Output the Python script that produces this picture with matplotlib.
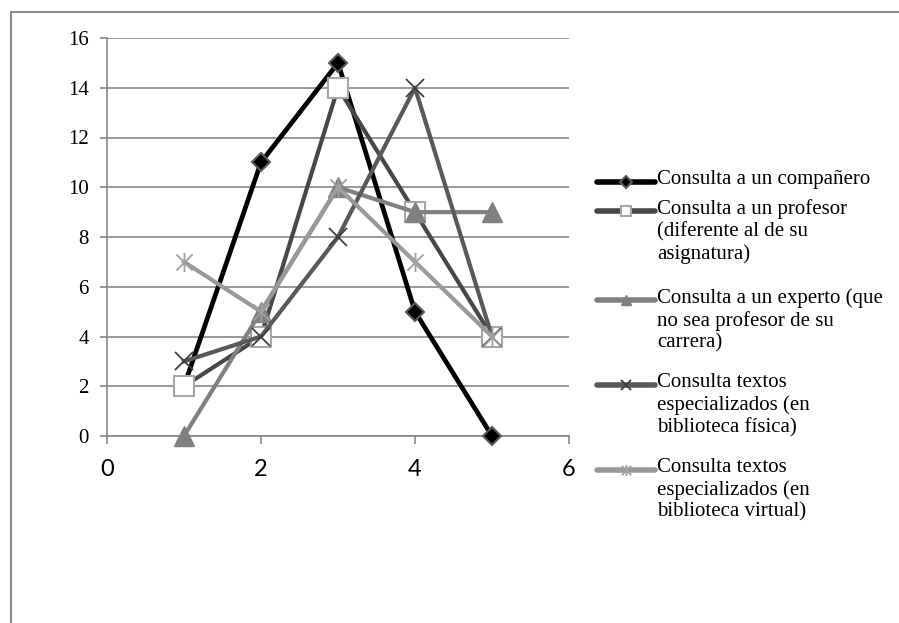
import matplotlib.pyplot as plt
from matplotlib.lines import Line2D
from matplotlib.patches import Rectangle
from matplotlib.path import Path

# Datos
x = [1, 2, 3, 4, 5]
companero = [2, 11, 15, 5, 0]
profesor = [2, 4, 14, 9, 4]
experto = [0, 5, 10, 9, 9]
fisica = [3, 4, 8, 14, 4]
virtual = [7, 5, 10, 7, 4]

etiquetas = ["Consulta a un compañero",
             "Consulta a un profesor\n(diferente al de su\nasignatura)",
             "Consulta a un experto (que\nno sea profesor de su\ncarrera)",
             "Consulta textos\nespecializados (en\nbiblioteca física)",
             "Consulta textos\nespecializados (en\nbiblioteca virtual)"]
series = [companero, profesor, experto, fisica, virtual]

# marcador tipo asterisco (x con linea vertical) como en Excel
star = Path([(-1, -1), (1, 1), (-1, 1), (1, -1), (0, -1.2), (0, 1.2)],
            [Path.MOVETO, Path.LINETO] * 3)

estilos = [
    dict(color='black', lw=3.4, marker='D', ms=9, mfc='black', mec='#595959', mew=1.5),
    dict(color='#474747', lw=3.0, marker='s', ms=14, mfc='white', mec='#a6a6a6', mew=1.5),
    dict(color='#808080', lw=3.0, marker='^', ms=14, mfc='#808080', mec='#808080', mew=1),
    dict(color='#595959', lw=3.0, marker='x', ms=13, mfc='none', mec='#404040', mew=1.3),
    dict(color='#999999', lw=3.0, marker=star, ms=14, mfc='none', mec='#a0a0a0', mew=1.3),
]
ley_ms = [6, 7, 7, 7, 8]

gris = '#868686'
fig = plt.figure(figsize=(8.99, 6.23), dpi=100)

# marco exterior del gráfico (solo se ve arriba y a la izquierda)
fig.patches.append(Rectangle((11 / 899, -0.1), 1.2, 1 - 12 / 623 + 0.1, transform=fig.transFigure,
                             fill=False, edgecolor=gris, lw=1.4))

ax = fig.add_axes([107 / 899, 1 - 436 / 623, 462 / 899, 398 / 623])
for i, (vals, st) in enumerate(zip(series, estilos)):
    ax.plot(x, vals, zorder=3 + i, clip_on=False, **st)

ax.set_xlim(0, 6)
ax.set_ylim(0, 16)
ax.set_xticks(range(0, 7, 2))
ax.set_yticks(range(0, 17, 2))
ax.yaxis.grid(True, color=gris, lw=1.2)
ax.set_axisbelow(True)
for s in ['top', 'right']:
    ax.spines[s].set_visible(False)
for s in ['left', 'bottom']:
    ax.spines[s].set_color(gris)
    ax.spines[s].set_linewidth(1.2)
ax.tick_params(axis='y', direction='out', length=5, width=1.2, color=gris, pad=8)
ax.tick_params(axis='x', direction='out', length=5.5, width=1.2, color=gris, pad=11)
for lab in ax.get_yticklabels():
    lab.set_fontfamily('Liberation Serif')
    lab.set_fontsize(15)
for lab in ax.get_xticklabels():
    lab.set_fontfamily('Lato')
    lab.set_fontsize(17)

# leyenda dibujada a mano para respetar el espaciado del original
ley_y = [182, 211, 300, 385, 470]
for lbl, st, yc, m in zip(etiquetas, estilos, ley_y, ley_ms):
    yf = 1 - yc / 623
    fig.add_artist(Line2D([597 / 899, 655 / 899], [yf, yf], transform=fig.transFigure,
                          color=st['color'], lw=4, solid_capstyle='round'))
    fig.add_artist(Line2D([626 / 899], [yf], transform=fig.transFigure, linestyle='none',
                          marker=st['marker'], ms=m, mfc=st['mfc'],
                          mec=st['mec'], mew=st['mew']))
    fig.text(657 / 899, 1 - (yc - 12) / 623, lbl, va='top', ha='left',
             family='Liberation Serif', fontsize=15, linespacing=1.2)

fig.savefig('out.png', dpi=100)
